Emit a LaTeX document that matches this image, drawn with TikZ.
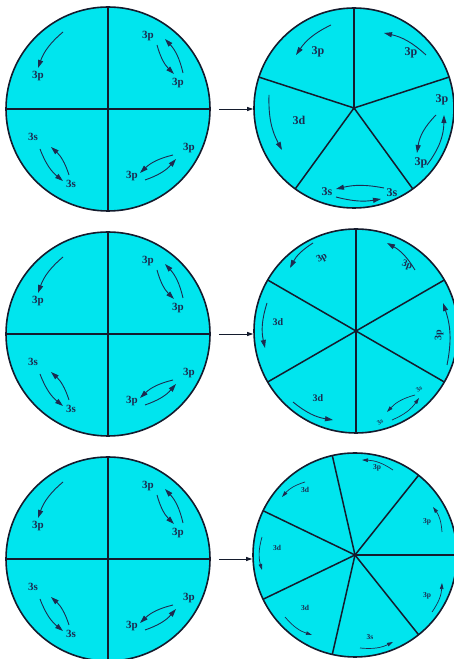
\documentclass[tikz,border=0pt]{standalone}
\usepackage{fontspec}
\setmainfont{Liberation Serif}
\usetikzlibrary{arrows.meta,positioning}
\definecolor{ShellCyan}{HTML}{00E5EE}
\definecolor{ShellLine}{HTML}{141B2D}
\definecolor{ShellText}{HTML}{1C2B4F}

\tikzset{
  shell/.style={circle, draw=ShellLine, fill=ShellCyan, line width=1.6pt, inner sep=0pt, minimum size=#1},
  spoke/.style={ShellLine, line width=1.5pt},
  hop/.style={ShellText, line width=0.9pt, -{Triangle[length=8pt,width=5pt]}, bend right=#1},
  hop/.default=18,
  smallhop/.style={ShellText, line width=0.7pt, -{Triangle[length=6pt,width=3.6pt]}, bend right=#1},
  smallhop/.default=16,
  orb/.style={text=ShellText, inner sep=0pt, font=\bfseries\fontsize{#1}{#1}\selectfont},
  orb/.default=11,
  link/.style={ShellLine, line width=0.8pt, -{Triangle[length=6pt,width=4pt]}},
}

\begin{document}
\begin{tikzpicture}[x=1pt,y=1pt]
  \useasboundingbox (0,0) rectangle (453,659);

  % four-sector circles on the left
  \foreach \n/\cy in {1/550, 2/325, 3/100} {
    \node[shell=204pt] (L\n) at (108,\cy) {};
    \draw[spoke] (L\n.north) -- (L\n.south);
    \draw[spoke] (L\n.west) -- (L\n.east);
    \begin{scope}[shift={(L\n.center)}]
      \draw[hop=15] (-45,77) to (-70,41);
      \node[orb] (L\n-ul) at (-70,33) {3p};
      \node[orb] (L\n-ura) at (40,73) {3p};
      \node[orb] (L\n-urb) at (70,26) {3p};
      \draw[hop=15] (49,64) to (66,35);
      \draw[hop=15] (75,36) to (57,70);
      \node[orb] (L\n-lla) at (-75,-28) {3s};
      \node[orb] (L\n-llb) at (-37,-75) {3s};
      \draw[hop=15] (-68,-40) to (-45,-72);
      \draw[hop=15] (-39,-66) to (-57,-38);
      \node[orb] (L\n-lra) at (81,-39) {3p};
      \node[orb] (L\n-lrb) at (24,-67) {3p};
      \draw[hop=15] (65,-46) to (32,-64);
      \draw[hop=15] (37,-71) to (68,-50);
    \end{scope}
  }

  % five sectors
  \node[shell=200pt] (R1) at (354,551) {};
  \begin{scope}[shift={(R1.center)}]
    \foreach \a in {18,90,...,306}
      \draw[spoke] (0,0) -- (\a:100);
    \fill[ShellLine] (0,0) circle (1.8);
    \draw[hop=15] (-23,83) to (-58,53);
    \node[orb=12] (R1-tl) at (-36,56) {3p};
    \draw[hop=15] (72,53) to (30,75);
    \node[orb=12] (R1-tr) at (57,55) {3p};
    \node[orb=12] (R1-ra) at (88,8) {3p};
    \node[orb=12] (R1-rb) at (67,-55) {3p};
    \draw[hop=18] (82,-7) to (63,-45);
    \draw[hop=18] (73,-57) to (90,-7);
    \node[orb=12] (R1-ba) at (-27,-84) {3s};
    \node[orb=12] (R1-bb) at (38,-85) {3s};
    \draw[hop=12] (30,-80) to (-18,-81);
    \draw[hop=12] (-18,-89) to (27,-91);
    \node[orb=12] (R1-l) at (-55,-12) {3d};
    \draw[hop=15] (-85,13) to (-72,-42);
  \end{scope}

  % six sectors
  \node[shell=204pt] (R2) at (356,328) {};
  \begin{scope}[shift={(R2.center)}]
    \foreach \a in {30,90,...,330}
      \draw[spoke] (0,0) -- (\a:102);
    \fill[ShellLine] (0,0) circle (1.8);
    \draw[hop=15] (-43,88) to (-66,63);
    \node[orb=10, rotate=30] (R2-tl) at (-34,73) {3p};
    \draw[hop=15] (59,61) to (31,88);
    \node[orb=10, rotate=-20] (R2-tr) at (51,66) {3p};
    \draw[hop=15] (91,-34) to (87,28);
    \node[orb=10, rotate=90] (R2-r) at (83,-4) {3p};
    \node[orb=6.5, rotate=35] (R2-bra) at (63,-58) {3s};
    \node[orb=6.5, rotate=35] (R2-brb) at (24,-91) {3s};
    \draw[smallhop=16] (59,-64) to (31,-81);
    \draw[smallhop=16] (36,-89) to (63,-67);
    \node[orb=10] (R2-bl) at (-38,-67) {3d};
    \draw[hop=15] (-63,-71) to (-23,-89);
    \node[orb=10] (R2-l) at (-78,9) {3d};
    \draw[hop=15] (-89,28) to (-91,-17);
  \end{scope}

  % seven sectors
  \node[shell=204pt] (R3) at (355,104) {};
  \begin{scope}[shift={(R3.center)}]
    \foreach \k [evaluate=\k as \a using \k*360/7] in {0,...,6}
      \draw[spoke] (0,0) -- (\a:102);
    \fill[ShellLine] (0,0) circle (1.8);
    \node[orb=7.5] (R3-a) at (72,33) {3p};
    \draw[smallhop] (87,23) to (78,48);
    \node[orb=7.5] (R3-b) at (22,87) {3p};
    \draw[smallhop] (38,85) to (7,95);
    \node[orb=7.5] (R3-c) at (-50,65) {3d};
    \draw[smallhop] (-50,73) to (-73,58);
    \node[orb=7.5] (R3-d) at (-78,7) {3d};
    \draw[smallhop] (-93,18) to (-93,-15);
    \node[orb=7.5] (R3-e) at (-50,-53) {3d};
    \draw[smallhop] (-70,-62) to (-43,-80);
    \node[orb=7.5] (R3-f) at (15,-82) {3s};
    \draw[smallhop] (5,-93) to (38,-87);
    \node[orb=7.5] (R3-g) at (72,-41) {3p};
    \draw[smallhop] (77,-57) to (87,-28);
  \end{scope}

  % arrows between the circles
  \draw[link] ([xshift=8pt]L1.east) -- (L1.east -| R1.west);
  \draw[link] ([xshift=8pt]L2.east) -- (L2.east -| R2.west);
  \draw[link] ([xshift=8pt]L3.east) -- (L3.east -| R3.west);
\end{tikzpicture}
\end{document}
